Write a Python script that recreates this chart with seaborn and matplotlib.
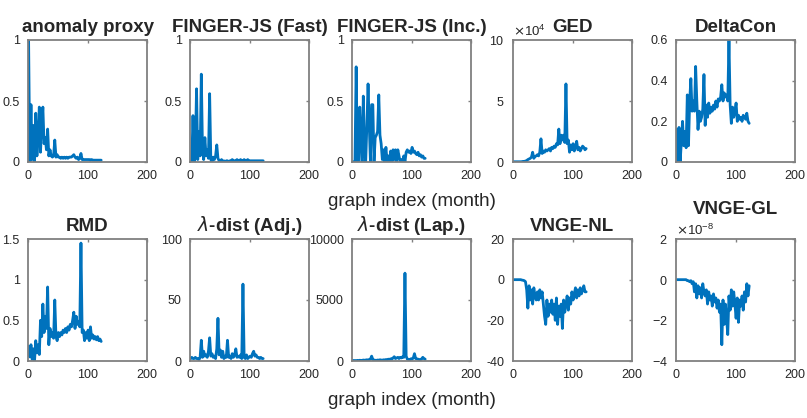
import numpy as np
import matplotlib
matplotlib.use("Agg")
import matplotlib.pyplot as plt
import matplotlib.ticker as mticker
import seaborn as sns

# months sampled every 2
months = list(range(1, 124, 2))

anomaly_proxy = [1.0, 0.0, 0.47, 0.02, 0.3, 0.0, 0.4, 0.05, 0.2, 0.45, 0.08, 0.3, 0.45, 0.15, 0.2, 0.1,
                 0.27, 0.05, 0.1, 0.05, 0.04, 0.05, 0.18, 0.04, 0.06, 0.04, 0.04, 0.03, 0.04, 0.03, 0.04, 0.03,
                 0.04, 0.03, 0.04, 0.04, 0.04, 0.05, 0.06, 0.04, 0.03, 0.04, 0.02, 0.03, 0.07, 0.02, 0.02, 0.02,
                 0.02, 0.02, 0.02, 0.02, 0.015, 0.02, 0.015, 0.015, 0.015, 0.015, 0.015, 0.015, 0.015, 0.015]
finger_fast = [0.0, 0.0, 0.38, 0.0, 0.1, 0.6, 0.02, 0.25, 0.05, 0.72, 0.1, 0.02, 0.2, 0.05, 0.1, 0.03,
               0.56, 0.02, 0.0, 0.04, 0.02, 0.05, 0.14, 0.03, 0.01, 0.0, 0.02, 0.0, 0.01, 0.0, 0.01, 0.01,
               0.0, 0.01, 0.01, 0.02, 0.01, 0.01, 0.01, 0.02, 0.01, 0.01, 0.02, 0.01, 0.01, 0.02, 0.01, 0.01,
               0.02, 0.01, 0.01, 0.01, 0.01, 0.01, 0.01, 0.01, 0.01, 0.01, 0.01, 0.01, 0.01, 0.01]
finger_inc = [0.0, 0.0, 0.0, 0.78, 0.0, 0.0, 0.45, 0.2, 0.0, 0.54, 0.1, 0.0, 0.3, 0.64, 0.3, 0.0,
              0.47, 0.47, 0.0, 0.2, 0.22, 0.25, 0.55, 0.22, 0.15, 0.02, 0.1, 0.0, 0.12, 0.0, 0.05, 0.0,
              0.09, 0.0, 0.1, 0.02, 0.1, 0.0, 0.1, 0.05, 0.0, 0.02, 0.0, 0.05, 0.0, 0.08, 0.1, 0.08,
              0.09, 0.07, 0.12, 0.08, 0.09, 0.07, 0.06, 0.08, 0.05, 0.06, 0.04, 0.05, 0.03, 0.03]
ged = [200, 200, 200, 200, 200, 200, 200, 300, 500, 500, 800, 1200, 2000, 2500, 3000, 4000,
       8000, 3000, 4500, 5000, 6000, 5000, 8000, 19000, 7000, 9000, 8000, 10000, 9000, 10000, 11000, 9000,
       12000, 11000, 13000, 12000, 15000, 14000, 27000, 15000, 22000, 18000, 22000, 16000, 64000, 15000, 18000, 8000,
       14000, 10000, 15000, 9000, 13000, 17000, 10000, 12000, 9000, 11000, 13000, 12000, 10000, 11000]
deltacon = [0.16, 0.0, 0.17, 0.0, 0.1, 0.2, 0.08, 0.15, 0.07, 0.33, 0.08, 0.3, 0.41, 0.25, 0.3, 0.25,
            0.47, 0.3, 0.16, 0.25, 0.2, 0.22, 0.26, 0.43, 0.18, 0.28, 0.22, 0.29, 0.24, 0.27, 0.25, 0.28,
            0.26, 0.3, 0.27, 0.31, 0.3, 0.32, 0.38, 0.3, 0.34, 0.32, 0.33, 0.3, 0.6, 0.28, 0.19, 0.27,
            0.22, 0.25, 0.29, 0.2, 0.23, 0.21, 0.22, 0.2, 0.23, 0.22, 0.21, 0.24, 0.2, 0.19]
rmd = [0.18, 0.05, 0.2, 0.02, 0.15, 0.0, 0.25, 0.1, 0.2, 0.08, 0.5, 0.3, 0.7, 0.35, 0.55, 0.4,
       0.91, 0.2, 0.4, 0.3, 0.35, 0.28, 0.75, 0.3, 0.25, 0.35, 0.3, 0.35, 0.32, 0.38, 0.35, 0.4,
       0.35, 0.42, 0.38, 0.45, 0.42, 0.5, 0.6, 0.4, 0.55, 0.45, 0.48, 0.42, 1.45, 0.35, 0.38, 0.25,
       0.35, 0.28, 0.38, 0.25, 0.42, 0.28, 0.32, 0.27, 0.3, 0.26, 0.3, 0.25, 0.27, 0.24]
lam_adj = [2, 3, 2, 2, 3, 2, 2, 1, 3, 17, 3, 8, 4, 5, 3, 8,
           19, 4, 6, 3, 4, 2, 10, 35, 5, 9, 3, 8, 2, 4, 3, 17,
           3, 4, 2, 6, 3, 5, 10, 3, 4, 3, 5, 2, 63, 3, 2, 5,
           2, 3, 4, 3, 6, 8, 4, 5, 3, 3, 2, 3, 2, 2]
lam_lap = [50, 30, 40, 30, 50, 40, 60, 50, 50, 80, 60, 80, 100, 60, 120, 150,
           400, 120, 80, 60, 50, 80, 60, 100, 80, 60, 100, 80, 120, 100, 150, 130,
           180, 150, 250, 350, 200, 250, 300, 200, 300, 250, 350, 300, 7200, 400, 150, 120,
           100, 180, 150, 250, 600, 200, 180, 150, 120, 100, 180, 300, 200, 150]
vnge_nl = [0, 0, 0, 0, 0, 0, 0, -0.2, -0.3, -0.5, -1, -5, -14, -3, -10, -5,
           -12, -4, -8, -10, -6, -10, -5, -9, -6, -12, -18, -22, -10, -18, -12, -16,
           -10, -17, -12, -20, -9, -22, -13, -18, -12, -24, -10, -16, -12, -8, -15, -9,
           -12, -6, -10, -7, -4, -9, -5, -8, -4, -7, -5, -3, -6, -6]
vnge_gl = [0, 0, 0, 0, 0, 0, 0, 0, 0, -0.05e-8, -0.05e-8, -0.1e-8, -0.05e-8, -0.2e-8, -0.1e-8, -0.6e-8,
           -0.2e-8, -0.9e-8, -0.3e-8, -0.7e-8, -0.4e-8, -0.9e-8, -0.2e-8, -0.6e-8, -0.8e-8, -0.5e-8, -1.2e-8, -0.6e-8,
           -1.0e-8, -0.8e-8, -1.3e-8, -0.7e-8, -1.1e-8, -0.9e-8, -1.4e-8, -1.0e-8, -1.6e-8, -1.2e-8, -3.2e-8, -1.0e-8,
           -2.2e-8, -1.2e-8, -1.9e-8, -2.7e-8, -0.8e-8, -1.5e-8, -0.5e-8, -1.3e-8, -0.6e-8, -1.2e-8, -1.9e-8, -0.9e-8,
           -2.1e-8, -1.0e-8, -1.3e-8, -0.8e-8, -1.5e-8, -0.6e-8, -1.1e-8, -0.2e-8, -0.8e-8, -0.3e-8]

titles = ["anomaly proxy", "FINGER-JS (Fast)", "FINGER-JS (Inc.)", "GED", "DeltaCon",
          "RMD", r"$\lambda$-dist (Adj.)", r"$\lambda$-dist (Lap.)", "VNGE-NL", "VNGE-GL"]
series = [anomaly_proxy, finger_fast, finger_inc, ged, deltacon,
          rmd, lam_adj, lam_lap, vnge_nl, vnge_gl]
ylims = [(0, 1), (0, 1), (0, 1), (0, 1e5), (0, 0.6),
         (0, 1.5), (0, 100), (0, 10000), (-40, 20), (-4e-8, 2e-8)]
yticks = [[0, 0.5, 1], [0, 0.5, 1], [0, 0.5, 1], [0, 5e4, 1e5], [0, 0.2, 0.4, 0.6],
          [0, 0.5, 1, 1.5], [0, 50, 100], [0, 5000, 10000], [-40, -20, 0, 20], [-4e-8, -2e-8, 0, 2e-8]]
sci_power = {3: 4, 9: -8}

sns.set_style("white")
plt.rcParams['font.family'] = ['Liberation Sans', 'DejaVu Sans']
plt.rcParams['axes.unicode_minus'] = False
plt.rcParams['mathtext.fontset'] = 'dejavusans'

fig = plt.figure(figsize=(8.07, 4.18), dpi=100)
W, H = 807, 418
lefts = [28, 190, 352, 513, 676]
tops = [40, 239]
aw, ah = 119, 122

gray = '#808080'
for i, (title, vals) in enumerate(zip(titles, series)):
    r, c = divmod(i, 5)
    ax = fig.add_axes([lefts[c] / W, 1 - (tops[r] + ah) / H, aw / W, ah / H])
    sns.lineplot(x=months, y=vals, ax=ax, color='#0072BD', linewidth=2, estimator=None)
    ax.set_xlim(0, 200)
    ax.set_ylim(*ylims[i])
    ax.set_xticks([0, 100, 200])
    ax.set_yticks(yticks[i])
    if i in sci_power:
        fmt = mticker.ScalarFormatter(useMathText=True)
        fmt.set_powerlimits((sci_power[i], sci_power[i]))
        ax.yaxis.set_major_formatter(fmt)
        ax.yaxis.get_offset_text().set_fontsize(9.5)
        ax.yaxis.get_offset_text().set_color('#404040')
    else:
        ax.yaxis.set_major_formatter(mticker.FormatStrFormatter('%g'))
    ax.tick_params(direction='in', length=2.5, width=1, color=gray, labelsize=9,
                   labelcolor='#262626', top=True, right=True, pad=6)
    for sp in ax.spines.values():
        sp.set_color(gray)
        sp.set_linewidth(1.3)
    ax.set_title(title, fontsize=13.5, fontweight='bold', pad=6)
    ax.set_facecolor('white')
    if c == 2:
        ax.set_xlabel("graph index (month)", fontsize=13.5, color='#262626', labelpad=8)

fig.savefig("out.png", dpi=100, facecolor='white')
